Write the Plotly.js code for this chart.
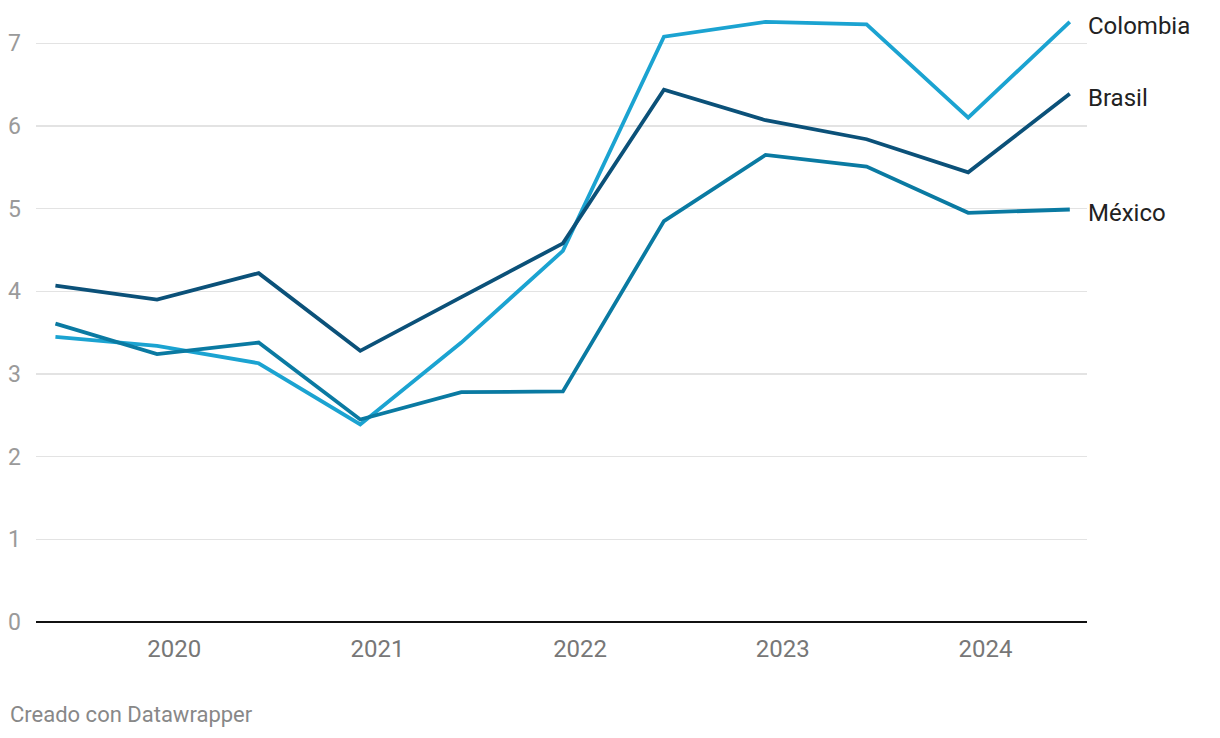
<!DOCTYPE html>
<html>
<head>
<meta charset="utf-8">
<script src="https://cdn.plot.ly/plotly-3.0.1.min.js"></script>
<style>
  html, body { margin: 0; padding: 0; background: #fff; }
  #chart { width: 1220px; height: 738px; }
</style>
</head>
<body>
<div id="chart"></div>
<script>
const dates = ['2019-06-01','2019-12-01','2020-06-01','2020-12-01','2021-06-01','2021-12-01',
               '2022-06-01','2022-12-01','2023-06-01','2023-12-01','2024-06-01'];
const colombia = [3.45, 3.34, 3.13, 2.39, 3.38, 4.49, 7.08, 7.26, 7.23, 6.10, 7.26];
const mexico   = [3.61, 3.24, 3.38, 2.45, 2.78, 2.79, 4.85, 5.65, 5.51, 4.95, 4.99];
const brasil   = [4.07, 3.90, 4.22, 3.28, 3.93, 4.58, 6.44, 6.07, 5.84, 5.44, 6.39];
const seriesNames = ['Colombia', 'México', 'Brasil'];
const yearTicks = ['2020-01-01','2021-01-01','2022-01-01','2023-01-01','2024-01-01'];
const yearLabels = ['2020','2021','2022','2023','2024'];
const yTicks = [0,1,2,3,4,5,6,7];

const colors = {Colombia: '#1ba3d1', 'México': '#0a7aa2', Brasil: '#0b5179'};
const values = {Colombia: colombia, 'México': mexico, Brasil: brasil};

const traces = seriesNames.map(n => ({
  x: dates, y: values[n], type: 'scatter', mode: 'lines', name: n,
  line: {color: colors[n], width: 3.8, shape: 'linear'},
  hoverinfo: 'skip'
}));

const annotations = seriesNames.map(n => ({
  x: dates[dates.length-1], y: values[n][values[n].length-1],
  xref: 'x', yref: 'y', text: n, showarrow: false,
  xanchor: 'left', yanchor: 'middle', xshift: 16, yshift: -4,
  font: {family: 'Roboto', size: 24, color: '#222222'}
}));
annotations.push({
  xref: 'paper', yref: 'paper', x: -0.027, y: 0, yshift: -92,
  xanchor: 'left', yanchor: 'middle', showarrow: false,
  text: 'Creado con Datawrapper',
  font: {family: 'Roboto', size: 22, color: '#888888'}
});

const layout = {
  width: 1220, height: 738,
  margin: {l: 36, r: 133, t: 2, b: 116},
  paper_bgcolor: '#ffffff', plot_bgcolor: '#ffffff',
  showlegend: false,
  font: {family: 'Roboto'},
  xaxis: {
    type: 'date', range: ['2019-04-27', '2024-07-02'],
    tickvals: yearTicks, ticktext: yearLabels,
    showgrid: false, zeroline: false, showline: false,
    ticks: '', ticklabelstandoff: 10,
    tickfont: {family: 'Roboto', size: 24, color: '#777777'},
    fixedrange: true
  },
  yaxis: {
    range: [0, 7.5], tickvals: yTicks,
    showgrid: true, gridcolor: '#e3e3e3', gridwidth: 1.5,
    zeroline: true, zerolinecolor: '#111111', zerolinewidth: 2,
    showline: false, ticks: '', ticklabelstandoff: 14,
    tickfont: {family: 'Roboto', size: 23, color: '#9a9a9a'},
    fixedrange: true
  },
  annotations: annotations
};

Plotly.newPlot('chart', traces, layout, {displayModeBar: false, staticPlot: true});
</script>
</body>
</html>
